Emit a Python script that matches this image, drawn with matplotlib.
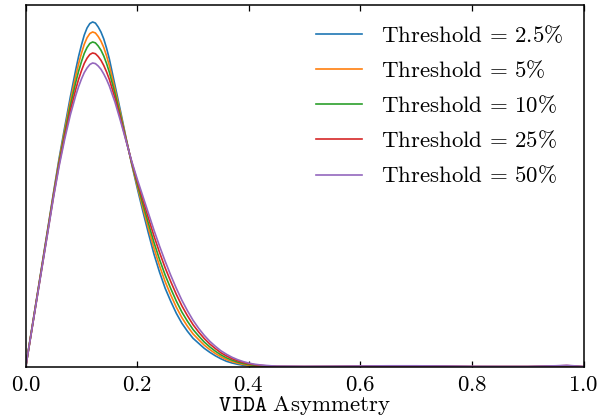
import matplotlib
matplotlib.use("Agg")
import matplotlib.pyplot as plt

# ---- data (density, arbitrary units) ----
x = [0.00, 0.01, 0.02, 0.03, 0.04, 0.05, 0.06, 0.07, 0.08, 0.09, 0.095,
     0.10, 0.105, 0.11, 0.115, 0.12, 0.125, 0.13, 0.135, 0.14, 0.145,
     0.15, 0.16, 0.17, 0.18, 0.19,
     0.20, 0.21, 0.22, 0.23, 0.24, 0.25, 0.26, 0.27, 0.28, 0.29,
     0.30, 0.31, 0.32, 0.33, 0.34, 0.35, 0.36, 0.37, 0.38, 0.39,
     0.40, 0.41, 0.42, 0.43, 0.44, 0.45,
     0.50, 0.55, 0.60, 0.65, 0.70, 0.75, 0.80, 0.85, 0.90, 0.95, 0.97, 1.00]

thr_2_5 = [0, 35, 70, 105, 140, 175, 209, 240, 270, 298, 310.9,
           322, 331.9, 339, 343.4, 345, 343.9, 340, 334.9, 328, 318.8,
           308, 282, 256, 229, 203,
           179, 156, 134, 113, 95, 79, 66, 54, 44, 36,
           29, 24, 19, 15, 11.5, 8.5, 6, 4.3, 3, 2,
           1.3, 0.9, 0.6, 0.4, 0.3, 0.2,
           0.2, 0.3, 0.4, 0.5, 0.5, 0.4, 0.3, 0.3, 0.3, 0.6, 0.8, 0.3]

thr_5 = [0, 35, 69.5, 104.3, 139, 173.8, 207, 237.1, 265.6, 291.7, 303.5,
         313.7, 322.7, 329.2, 333.4, 335, 334.0, 330.5, 325.8, 319.5, 311.1,
         301.4, 277.9, 253.6, 228.3, 203.7,
         181.2, 159.7, 138.9, 118.9, 101.3, 85.6, 72.3, 60.1, 49.6, 41.0,
         33.4, 27.7, 22.2, 17.7, 13.8, 10.5, 7.7, 5.7, 4.1, 2.9,
         2.0, 1.4, 1.0, 0.8, 0.6, 0.4,
         0.4, 0.5, 0.6, 0.7, 0.7, 0.6, 0.5, 0.4, 0.4, 0.8, 1.1, 0.4]

thr_10 = [0, 34.5, 69, 103.5, 138, 172.6, 205, 234.1, 261.2, 285.3, 296.1,
          305.4, 313.6, 319.5, 323.5, 325, 324.1, 321, 316.8, 311, 303.5,
          294.8, 273.7, 251.1, 227.5, 204.5,
          183.4, 163.3, 143.8, 124.7, 107.7, 92.2, 78.7, 66.2, 55.2, 46.0,
          37.8, 31.3, 25.3, 20.4, 16.1, 12.4, 9.4, 7.1, 5.2, 3.8,
          2.7, 2.0, 1.5, 1.1, 0.9, 0.7,
          0.6, 0.7, 0.8, 1.0, 1.0, 0.8, 0.6, 0.6, 0.6, 1.0, 1.4, 0.5]

thr_25 = [0, 34, 68.5, 102.7, 137, 171.2, 203, 230.9, 256.4, 278.3, 288.0,
          296.3, 303.6, 308.8, 312.5, 314, 313.3, 310.5, 306.7, 301.5, 295.1,
          287.6, 269.1, 248.4, 226.7, 205.3,
          185.8, 167.3, 149.1, 131.1, 114.7, 99.4, 85.7, 72.9, 61.4, 51.5,
          42.6, 35.3, 28.8, 23.3, 18.7, 14.5, 11.3, 8.6, 6.5, 4.8,
          3.5, 2.6, 2.0, 1.5, 1.2, 0.96,
          0.8, 0.9, 1.1, 1.2, 1.2, 1.1, 0.8, 0.8, 0.8, 1.3, 1.7, 0.7]

thr_50 = [0, 34, 68, 102, 136, 170, 201, 228, 252, 272, 280.6,
          288, 294.4, 299, 302.5, 304, 303.4, 301, 297.7, 293, 287.5,
          281, 265, 246, 226, 206,
          188, 171, 154, 137, 121, 106, 92, 79, 67, 56.5,
          47, 39, 32, 26, 21, 16.5, 13, 10, 7.6, 5.7,
          4.2, 3.1, 2.4, 1.9, 1.5, 1.2,
          1.0, 1.1, 1.3, 1.5, 1.5, 1.3, 1.0, 0.9, 0.9, 1.5, 2.0, 0.8]

series = [thr_2_5, thr_5, thr_10, thr_25, thr_50]
labels = ["2.5", "5", "10", "25", "50"]
xticks = [0.0, 0.2, 0.4, 0.6, 0.8, 1.0]
xtick_labels = ["0.0", "0.2", "0.4", "0.6", "0.8", "1.0"]

# ---- style ----
plt.rcParams["mathtext.fontset"] = "cm"
plt.rcParams["font.family"] = ["DejaVu Serif"]
FS = 16.5

fig = plt.figure(figsize=(6.0, 4.19), dpi=100)
ax = fig.add_axes([0.0428, 0.1234, 0.9297, 0.8654])

colors = ["#1f77b4", "#ff7f0e", "#2ca02c", "#d62728", "#9467bd"]
for ys, lab, c in zip(series, labels, colors):
    ax.plot(x, ys, color=c, lw=1.2,
            label=r"$\mathrm{Threshold}\,=\,%s\%%$" % lab)

ax.set_xlim(0, 1)
ax.set_ylim(bottom=0)
ax.set_yticks([])
ax.set_xticks(xticks)
ax.set_xticklabels([r"$%s$" % t for t in xtick_labels], fontsize=FS)
ax.tick_params(axis="x", direction="in", top=True, bottom=True,
               length=4, width=0.9, pad=5)
for sp in ax.spines.values():
    sp.set_linewidth(1.1)

ax.set_xlabel(r"$\mathtt{VIDA}\ \mathrm{Asymmetry}$", fontsize=FS, labelpad=-1.5)

ax.legend(loc="upper right", frameon=False, fontsize=FS,
          handlelength=2.0, handletextpad=0.8, labelspacing=0.57,
          borderaxespad=0.5, borderpad=0.4)

fig.savefig("out.png", dpi=100)
